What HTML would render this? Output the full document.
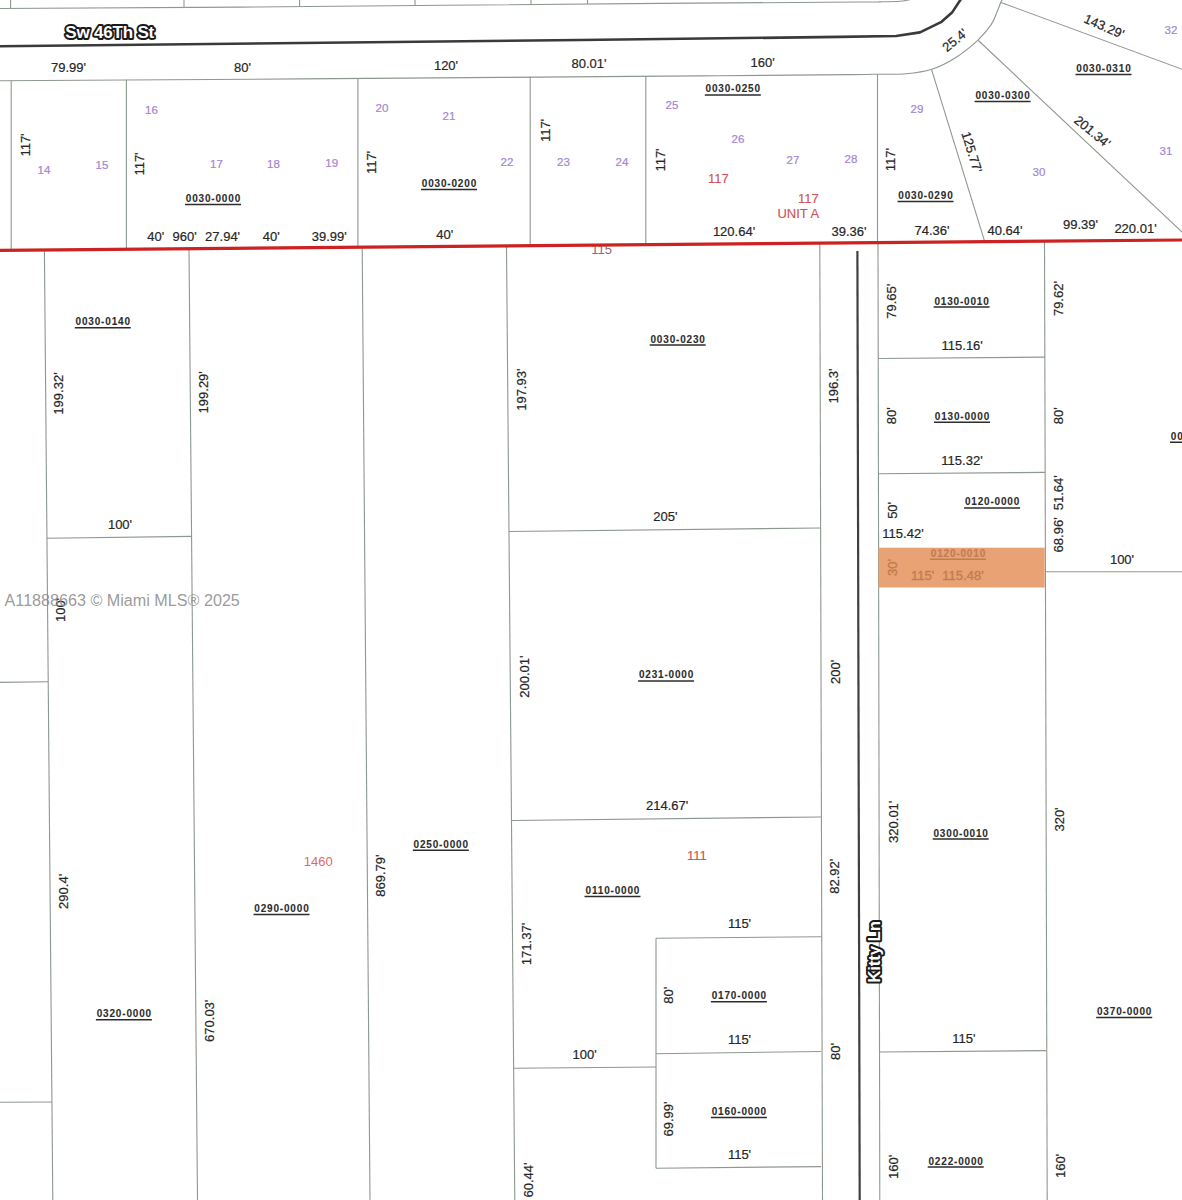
<!DOCTYPE html>
<html><head><meta charset="utf-8"><title>plat map</title>
<style>
html,body{margin:0;padding:0;background:#fff;}
body{width:1182px;height:1200px;overflow:hidden;}
svg{display:block;}
text{font-family:"Liberation Sans",sans-serif;text-anchor:middle;}
text.d{stroke:#262626;stroke-width:0.2px;}
text.p{stroke:#a385d2;stroke-width:0.2px;}
text.r{stroke:#d05454;stroke-width:0.15px;}
text.o{stroke:#c27c50;stroke-width:0.35px;}
text.i{font-weight:bold;stroke:currentColor;stroke-width:0.1px;}
text.h{font-weight:bold;fill:#fff;stroke:#1a1a1a;stroke-width:4px;paint-order:stroke;stroke-linejoin:round;letter-spacing:-0.2px;}
text.w{text-anchor:start;fill:#8e8e8e;fill-opacity:0.9;}
</style></head>
<body>
<svg width="1182" height="1200" viewBox="0 0 1182 1200">
<rect width="1182" height="1200" fill="#fff"/>
<path d="M0.00,8.50 C40.00,8.27 130.00,7.95 240.00,7.10 C350.00,6.25 556.67,4.25 660.00,3.40 C763.33,2.55 823.33,2.27 860.00,2.00 C896.67,1.73 873.33,1.92 880.00,1.80 C886.67,1.68 894.50,1.77 900.00,1.30 C905.50,0.83 910.83,-0.62 913.00,-1.00" fill="none" stroke="#8e988e" stroke-width="1.1" stroke-linejoin="round"/>
<line x1="10.6" y1="-1" x2="10.6" y2="8.4205" stroke="#8e988e" stroke-width="1.1"/>
<line x1="184" y1="-1" x2="184" y2="7.12" stroke="#8e988e" stroke-width="1.1"/>
<line x1="299.6" y1="-1" x2="299.6" y2="6.253" stroke="#8e988e" stroke-width="1.1"/>
<line x1="415" y1="-1" x2="415" y2="5.3875" stroke="#8e988e" stroke-width="1.1"/>
<line x1="531" y1="-1" x2="531" y2="4.5175" stroke="#8e988e" stroke-width="1.1"/>
<line x1="587.5" y1="-1" x2="587.5" y2="4.09375" stroke="#8e988e" stroke-width="1.1"/>
<polyline points="0,46.3 300,43 580,40 840,36.9 896,36.0 920,32.4 941,22.2 952,12.6 961,-1" fill="none" stroke="#3a3a3a" stroke-width="2.6" stroke-linejoin="round"/>
<path d="M0.00,80.80 C50.00,80.48 216.67,79.47 300.00,78.90 C383.33,78.33 433.33,77.90 500.00,77.40 C566.67,76.90 641.67,76.37 700.00,75.90 C758.33,75.43 820.33,74.88 850.00,74.60 C879.67,74.32 868.67,74.33 878.00,74.20 C887.33,74.07 897.05,74.62 906.00,73.80 C914.95,72.98 923.58,71.90 931.70,69.30 C939.82,66.70 947.03,63.03 954.70,58.20 C962.37,53.37 971.60,45.93 977.70,40.30 C983.80,34.67 988.08,29.12 991.30,24.40 C994.52,19.68 995.38,15.73 997.00,12.00 C998.62,8.27 1000.00,4.17 1001.00,2.00 C1002.00,-0.17 1002.67,-0.50 1003.00,-1.00" fill="none" stroke="#8e988e" stroke-width="1.1" stroke-linejoin="round"/>
<line x1="11.2" y1="80.716" x2="11.2" y2="250.2024027072758" stroke="#8e988e" stroke-width="1.1"/>
<line x1="126.4" y1="79.852" x2="126.4" y2="249.1985448392555" stroke="#8e988e" stroke-width="1.1"/>
<line x1="357.9" y1="78.11574999999999" x2="357.9" y2="247.18124365482234" stroke="#8e988e" stroke-width="1.1"/>
<line x1="530.2" y1="76.8235" x2="530.2" y2="245.6798138747885" stroke="#8e988e" stroke-width="1.1"/>
<line x1="645.8" y1="75.95649999999999" x2="645.8" y2="244.6724703891709" stroke="#8e988e" stroke-width="1.1"/>
<line x1="877.5" y1="74.21875" x2="877.5" y2="242.6534263959391" stroke="#8e988e" stroke-width="1.1"/>
<line x1="931.5" y1="69.3" x2="984.8" y2="241.8" stroke="#8e988e" stroke-width="1.1"/>
<line x1="978.4" y1="40.5" x2="1184" y2="234" stroke="#8e988e" stroke-width="1.1"/>
<line x1="1001" y1="2.5" x2="1184" y2="70" stroke="#8e988e" stroke-width="1.1"/>
<line x1="44.4" y1="250" x2="52.8" y2="1201" stroke="#8e988e" stroke-width="1.1"/>
<line x1="189" y1="249" x2="197.5" y2="1201" stroke="#8e988e" stroke-width="1.1"/>
<line x1="47" y1="538.2" x2="191.6" y2="536.4" stroke="#8e988e" stroke-width="1.1"/>
<line x1="-1" y1="682.4" x2="48" y2="681.7" stroke="#8e988e" stroke-width="1.1"/>
<line x1="-1" y1="1102.3" x2="52" y2="1102" stroke="#8e988e" stroke-width="1.1"/>
<line x1="362.2" y1="248" x2="370" y2="1201" stroke="#8e988e" stroke-width="1.1"/>
<line x1="506.5" y1="247" x2="514.8" y2="1201" stroke="#8e988e" stroke-width="1.1"/>
<line x1="509" y1="531.5" x2="821" y2="528" stroke="#8e988e" stroke-width="1.1"/>
<line x1="512" y1="820.5" x2="821" y2="817" stroke="#8e988e" stroke-width="1.1"/>
<line x1="514" y1="1068.2" x2="656" y2="1067" stroke="#8e988e" stroke-width="1.1"/>
<line x1="819.8" y1="244" x2="822.5" y2="1201" stroke="#8e988e" stroke-width="1.1"/>
<line x1="878" y1="242" x2="879.8" y2="1201" stroke="#8e988e" stroke-width="1.1"/>
<line x1="1044.5" y1="240" x2="1047.2" y2="1201" stroke="#8e988e" stroke-width="1.1"/>
<line x1="878" y1="358.5" x2="1045" y2="357.1" stroke="#8e988e" stroke-width="1.1"/>
<line x1="878" y1="473.7" x2="1045" y2="472.4" stroke="#8e988e" stroke-width="1.1"/>
<line x1="1045" y1="571.7" x2="1184" y2="571.7" stroke="#8e988e" stroke-width="1.1"/>
<line x1="656" y1="938.3" x2="656" y2="1168.2" stroke="#8e988e" stroke-width="1.1"/>
<line x1="656" y1="938.3" x2="821" y2="936.7" stroke="#8e988e" stroke-width="1.1"/>
<line x1="656" y1="1053.7" x2="821" y2="1051.5" stroke="#8e988e" stroke-width="1.1"/>
<line x1="656" y1="1168.2" x2="821" y2="1166.6" stroke="#8e988e" stroke-width="1.1"/>
<line x1="879" y1="1052" x2="1046" y2="1050.6" stroke="#8e988e" stroke-width="1.1"/>
<line x1="857.4" y1="251" x2="859.7" y2="1201" stroke="#404040" stroke-width="2.2"/>
<text class="d" x="68.5" y="71.95" fill="#262626" font-size="13">79.99'</text>
<text class="d" x="242.4" y="71.65" fill="#262626" font-size="13">80'</text>
<text class="d" x="446" y="69.65" fill="#262626" font-size="13">120'</text>
<text class="d" x="589" y="68.15" fill="#262626" font-size="13">80.01'</text>
<text class="d" x="762.7" y="66.85" fill="#262626" font-size="13">160'</text>
<text class="d" transform="translate(954.7,40) rotate(-40)" x="0" y="4.65" fill="#262626" font-size="13">25.4'</text>
<text class="d" transform="translate(1104.2,26.2) rotate(23.5)" x="0" y="4.65" fill="#262626" font-size="13">143.29'</text>
<text class="p" x="1171" y="34.12" fill="#a385d2" font-size="11.5">32</text>
<text class="i" transform="translate(1103.90,72.00) scale(0.87,1)" x="0" y="0" fill="#2c2c2c" color="#2c2c2c" font-size="11.5" letter-spacing="0.95">0030-0310</text>
<line x1="1075.5" y1="74.60" x2="1131.5" y2="74.60" stroke="#2c2c2c" stroke-width="1.5"/>
<text class="i" transform="translate(1003.00,99.00) scale(0.87,1)" x="0" y="0" fill="#2c2c2c" color="#2c2c2c" font-size="11.5" letter-spacing="0.95">0030-0300</text>
<line x1="974.6" y1="101.60" x2="1030.6" y2="101.60" stroke="#2c2c2c" stroke-width="1.5"/>
<text class="d" transform="translate(1092.5,131.5) rotate(39.5)" x="0" y="4.65" fill="#262626" font-size="13">201.34'</text>
<text class="d" transform="translate(972,152) rotate(73)" x="0" y="4.65" fill="#262626" font-size="13">125.77'</text>
<text class="d" transform="translate(890,159.6) rotate(-90)" x="0" y="4.65" fill="#262626" font-size="13">117'</text>
<text class="p" x="917" y="113.12" fill="#a385d2" font-size="11.5">29</text>
<text class="p" x="1039" y="176.12" fill="#a385d2" font-size="11.5">30</text>
<text class="p" x="1166" y="155.12" fill="#a385d2" font-size="11.5">31</text>
<text class="i" transform="translate(925.90,199.00) scale(0.87,1)" x="0" y="0" fill="#2c2c2c" color="#2c2c2c" font-size="11.5" letter-spacing="0.95">0030-0290</text>
<line x1="897.5" y1="201.60" x2="953.5" y2="201.60" stroke="#2c2c2c" stroke-width="1.5"/>
<text class="d" x="932" y="234.65" fill="#262626" font-size="13">74.36'</text>
<text class="d" x="1005" y="234.65" fill="#262626" font-size="13">40.64'</text>
<text class="d" x="1080.5" y="228.65" fill="#262626" font-size="13">99.39'</text>
<text class="d" x="1135.5" y="233.25" fill="#262626" font-size="13">220.01'</text>
<text class="d" transform="translate(25.4,145) rotate(-90)" x="0" y="4.65" fill="#262626" font-size="13">117'</text>
<text class="p" x="44" y="174.12" fill="#a385d2" font-size="11.5">14</text>
<text class="p" x="102" y="168.72" fill="#a385d2" font-size="11.5">15</text>
<text class="p" x="151.5" y="114.12" fill="#a385d2" font-size="11.5">16</text>
<text class="d" transform="translate(139.6,164) rotate(-90)" x="0" y="4.65" fill="#262626" font-size="13">117'</text>
<text class="p" x="216.5" y="167.62" fill="#a385d2" font-size="11.5">17</text>
<text class="p" x="273.4" y="167.62" fill="#a385d2" font-size="11.5">18</text>
<text class="p" x="331.7" y="166.92" fill="#a385d2" font-size="11.5">19</text>
<text class="i" transform="translate(213.40,202.00) scale(0.87,1)" x="0" y="0" fill="#2c2c2c" color="#2c2c2c" font-size="11.5" letter-spacing="0.95">0030-0000</text>
<line x1="185.0" y1="204.60" x2="241.0" y2="204.60" stroke="#2c2c2c" stroke-width="1.5"/>
<text class="d" x="155.8" y="240.85" fill="#262626" font-size="13">40'</text>
<text class="d" x="184.7" y="240.85" fill="#262626" font-size="13">960'</text>
<text class="d" x="222.6" y="240.85" fill="#262626" font-size="13">27.94'</text>
<text class="d" x="271.2" y="240.85" fill="#262626" font-size="13">40'</text>
<text class="d" x="329.2" y="240.85" fill="#262626" font-size="13">39.99'</text>
<text class="p" x="382" y="111.82" fill="#a385d2" font-size="11.5">20</text>
<text class="p" x="449" y="120.42" fill="#a385d2" font-size="11.5">21</text>
<text class="d" transform="translate(371,162.5) rotate(-90)" x="0" y="4.65" fill="#262626" font-size="13">117'</text>
<text class="p" x="506.9" y="165.62" fill="#a385d2" font-size="11.5">22</text>
<text class="p" x="563.5" y="165.62" fill="#a385d2" font-size="11.5">23</text>
<text class="d" transform="translate(545,130.5) rotate(-90)" x="0" y="4.65" fill="#262626" font-size="13">117'</text>
<text class="i" transform="translate(449.40,187.00) scale(0.87,1)" x="0" y="0" fill="#2c2c2c" color="#2c2c2c" font-size="11.5" letter-spacing="0.95">0030-0200</text>
<line x1="421.0" y1="189.60" x2="477.0" y2="189.60" stroke="#2c2c2c" stroke-width="1.5"/>
<text class="d" x="444.7" y="239.15" fill="#262626" font-size="13">40'</text>
<text class="i" transform="translate(733.20,92.40) scale(0.87,1)" x="0" y="0" fill="#2c2c2c" color="#2c2c2c" font-size="11.5" letter-spacing="0.95">0030-0250</text>
<line x1="704.8" y1="95.00" x2="760.8" y2="95.00" stroke="#2c2c2c" stroke-width="1.5"/>
<text class="p" x="671.9" y="109.12" fill="#a385d2" font-size="11.5">25</text>
<text class="p" x="738" y="143.12" fill="#a385d2" font-size="11.5">26</text>
<text class="p" x="621.9" y="165.62" fill="#a385d2" font-size="11.5">24</text>
<text class="d" transform="translate(660,160) rotate(-90)" x="0" y="4.65" fill="#262626" font-size="13">117'</text>
<text class="p" x="793" y="164.12" fill="#a385d2" font-size="11.5">27</text>
<text class="p" x="851" y="163.12" fill="#a385d2" font-size="11.5">28</text>
<text class="r" x="718.3" y="182.65" fill="#d05454" font-size="13">117</text>
<text class="r" x="808.4" y="202.95" fill="#d05454" font-size="13">117</text>
<text class="r" x="798.3" y="218.15" fill="#d05454" font-size="13">UNIT A</text>
<text class="d" x="734" y="235.95" fill="#262626" font-size="13">120.64'</text>
<text class="d" x="849" y="235.65" fill="#262626" font-size="13">39.36'</text>
<text class="x" x="601.6" y="254.45" fill="#8c6a78" font-size="13">115</text>
<text class="i" transform="translate(103.20,325.20) scale(0.87,1)" x="0" y="0" fill="#2c2c2c" color="#2c2c2c" font-size="11.5" letter-spacing="0.95">0030-0140</text>
<line x1="74.8" y1="327.80" x2="130.8" y2="327.80" stroke="#2c2c2c" stroke-width="1.5"/>
<text class="d" transform="translate(58.8,393.5) rotate(-90)" x="0" y="4.65" fill="#262626" font-size="13">199.32'</text>
<text class="d" transform="translate(203.8,392.3) rotate(-90)" x="0" y="4.65" fill="#262626" font-size="13">199.29'</text>
<text class="d" x="120" y="528.95" fill="#262626" font-size="13">100'</text>
<text class="d" transform="translate(60,610) rotate(-90)" x="0" y="4.65" fill="#262626" font-size="13">100'</text>
<text class="d" transform="translate(63.5,891.4) rotate(-90)" x="0" y="4.65" fill="#262626" font-size="13">290.4'</text>
<text class="i" transform="translate(124.30,1017.20) scale(0.87,1)" x="0" y="0" fill="#2c2c2c" color="#2c2c2c" font-size="11.5" letter-spacing="0.95">0320-0000</text>
<line x1="95.9" y1="1019.80" x2="151.9" y2="1019.80" stroke="#2c2c2c" stroke-width="1.5"/>
<text class="d" transform="translate(209.4,1020.8) rotate(-90)" x="0" y="4.65" fill="#262626" font-size="13">670.03'</text>
<text class="i" transform="translate(281.90,911.80) scale(0.87,1)" x="0" y="0" fill="#2c2c2c" color="#2c2c2c" font-size="11.5" letter-spacing="0.95">0290-0000</text>
<line x1="253.5" y1="914.40" x2="309.5" y2="914.40" stroke="#2c2c2c" stroke-width="1.5"/>
<text class="x" x="318.3" y="866.25" fill="#dc6a6a" font-size="13">1460</text>
<text class="d" transform="translate(380.6,875.6) rotate(-90)" x="0" y="4.65" fill="#262626" font-size="13">869.79'</text>
<text class="i" transform="translate(441.20,847.70) scale(0.87,1)" x="0" y="0" fill="#2c2c2c" color="#2c2c2c" font-size="11.5" letter-spacing="0.95">0250-0000</text>
<line x1="412.8" y1="850.30" x2="468.8" y2="850.30" stroke="#2c2c2c" stroke-width="1.5"/>
<text class="d" transform="translate(521.6,389.7) rotate(-90)" x="0" y="4.65" fill="#262626" font-size="13">197.93'</text>
<text class="i" transform="translate(678.10,342.50) scale(0.87,1)" x="0" y="0" fill="#2c2c2c" color="#2c2c2c" font-size="11.5" letter-spacing="0.95">0030-0230</text>
<line x1="649.7" y1="345.10" x2="705.7" y2="345.10" stroke="#2c2c2c" stroke-width="1.5"/>
<text class="d" transform="translate(833.8,386) rotate(-90)" x="0" y="4.65" fill="#262626" font-size="13">196.3'</text>
<text class="d" x="665.4" y="521.05" fill="#262626" font-size="13">205'</text>
<text class="d" transform="translate(524,676.6) rotate(-90)" x="0" y="4.65" fill="#262626" font-size="13">200.01'</text>
<text class="i" transform="translate(666.50,678.30) scale(0.87,1)" x="0" y="0" fill="#2c2c2c" color="#2c2c2c" font-size="11.5" letter-spacing="0.95">0231-0000</text>
<line x1="638.1" y1="680.90" x2="694.1" y2="680.90" stroke="#2c2c2c" stroke-width="1.5"/>
<text class="d" transform="translate(835.3,671.9) rotate(-90)" x="0" y="4.65" fill="#262626" font-size="13">200'</text>
<text class="d" x="667.1" y="810.25" fill="#262626" font-size="13">214.67'</text>
<text class="r" x="696.8" y="860.05" fill="#d05454" font-size="13">111</text>
<text class="i" transform="translate(612.90,893.80) scale(0.87,1)" x="0" y="0" fill="#2c2c2c" color="#2c2c2c" font-size="11.5" letter-spacing="0.95">0110-0000</text>
<line x1="584.5" y1="896.40" x2="640.5" y2="896.40" stroke="#2c2c2c" stroke-width="1.5"/>
<text class="d" transform="translate(834.4,876.3) rotate(-90)" x="0" y="4.65" fill="#262626" font-size="13">82.92'</text>
<text class="d" x="739.5" y="928.15" fill="#262626" font-size="13">115'</text>
<text class="d" transform="translate(526.5,944) rotate(-90)" x="0" y="4.65" fill="#262626" font-size="13">171.37'</text>
<text class="d" transform="translate(668.8,995.2) rotate(-90)" x="0" y="4.65" fill="#262626" font-size="13">80'</text>
<text class="i" transform="translate(739.30,999.20) scale(0.87,1)" x="0" y="0" fill="#2c2c2c" color="#2c2c2c" font-size="11.5" letter-spacing="0.95">0170-0000</text>
<line x1="710.9" y1="1001.80" x2="766.9" y2="1001.80" stroke="#2c2c2c" stroke-width="1.5"/>
<text class="d" x="739.5" y="1044.25" fill="#262626" font-size="13">115'</text>
<text class="d" x="584.6" y="1059.35" fill="#262626" font-size="13">100'</text>
<text class="d" transform="translate(835,1051.5) rotate(-90)" x="0" y="4.65" fill="#262626" font-size="13">80'</text>
<text class="d" transform="translate(668.8,1119) rotate(-90)" x="0" y="4.65" fill="#262626" font-size="13">69.99'</text>
<text class="i" transform="translate(739.30,1115.00) scale(0.87,1)" x="0" y="0" fill="#2c2c2c" color="#2c2c2c" font-size="11.5" letter-spacing="0.95">0160-0000</text>
<line x1="710.9" y1="1117.60" x2="766.9" y2="1117.60" stroke="#2c2c2c" stroke-width="1.5"/>
<text class="d" x="739.5" y="1159.05" fill="#262626" font-size="13">115'</text>
<text class="d" transform="translate(528.3,1180) rotate(-90)" x="0" y="4.65" fill="#262626" font-size="13">60.44'</text>
<text class="i" transform="translate(962.00,304.50) scale(0.87,1)" x="0" y="0" fill="#2c2c2c" color="#2c2c2c" font-size="11.5" letter-spacing="0.95">0130-0010</text>
<line x1="933.6" y1="307.10" x2="989.6" y2="307.10" stroke="#2c2c2c" stroke-width="1.5"/>
<text class="d" transform="translate(891.3,301.3) rotate(-90)" x="0" y="4.65" fill="#262626" font-size="13">79.65'</text>
<text class="d" x="962.2" y="349.55" fill="#262626" font-size="13">115.16'</text>
<text class="d" transform="translate(1058.3,298.6) rotate(-90)" x="0" y="4.65" fill="#262626" font-size="13">79.62'</text>
<text class="d" transform="translate(891.3,415.7) rotate(-90)" x="0" y="4.65" fill="#262626" font-size="13">80'</text>
<text class="i" transform="translate(962.40,419.70) scale(0.87,1)" x="0" y="0" fill="#2c2c2c" color="#2c2c2c" font-size="11.5" letter-spacing="0.95">0130-0000</text>
<line x1="934.0" y1="422.30" x2="990.0" y2="422.30" stroke="#2c2c2c" stroke-width="1.5"/>
<text class="d" transform="translate(1058.3,415.7) rotate(-90)" x="0" y="4.65" fill="#262626" font-size="13">80'</text>
<text class="d" x="962" y="465.25" fill="#262626" font-size="13">115.32'</text>
<text class="i" transform="translate(1198.40,439.60) scale(0.87,1)" x="0" y="0" fill="#2c2c2c" color="#2c2c2c" font-size="11.5" letter-spacing="0.95">0030-0370</text>
<line x1="1170.0" y1="442.20" x2="1226.0" y2="442.20" stroke="#2c2c2c" stroke-width="1.5"/>
<text class="d" transform="translate(892.1,510.4) rotate(-90)" x="0" y="4.65" fill="#262626" font-size="13">50'</text>
<text class="i" transform="translate(992.50,505.40) scale(0.87,1)" x="0" y="0" fill="#2c2c2c" color="#2c2c2c" font-size="11.5" letter-spacing="0.95">0120-0000</text>
<line x1="964.1" y1="508.00" x2="1020.1" y2="508.00" stroke="#2c2c2c" stroke-width="1.5"/>
<text class="d" x="903" y="538.15" fill="#262626" font-size="13">115.42'</text>
<text class="d" transform="translate(1058.3,534.9) rotate(-90)" x="0" y="4.65" fill="#262626" font-size="13">68.96'</text>
<text class="d" transform="translate(1058.3,492.7) rotate(-90)" x="0" y="4.65" fill="#262626" font-size="13">51.64'</text>
<text class="d" x="1122" y="564.05" fill="#262626" font-size="13">100'</text>
<text class="d" transform="translate(893.5,821.8) rotate(-90)" x="0" y="4.65" fill="#262626" font-size="13">320.01'</text>
<text class="i" transform="translate(961.10,836.50) scale(0.87,1)" x="0" y="0" fill="#2c2c2c" color="#2c2c2c" font-size="11.5" letter-spacing="0.95">0300-0010</text>
<line x1="932.7" y1="839.10" x2="988.7" y2="839.10" stroke="#2c2c2c" stroke-width="1.5"/>
<text class="d" transform="translate(1059,819.5) rotate(-90)" x="0" y="4.65" fill="#262626" font-size="13">320'</text>
<text class="i" transform="translate(1124.60,1015.00) scale(0.87,1)" x="0" y="0" fill="#2c2c2c" color="#2c2c2c" font-size="11.5" letter-spacing="0.95">0370-0000</text>
<line x1="1096.2" y1="1017.60" x2="1152.2" y2="1017.60" stroke="#2c2c2c" stroke-width="1.5"/>
<text class="d" x="963.8" y="1042.75" fill="#262626" font-size="13">115'</text>
<text class="d" transform="translate(893.5,1166.9) rotate(-90)" x="0" y="4.65" fill="#262626" font-size="13">160'</text>
<text class="i" transform="translate(956.10,1164.50) scale(0.87,1)" x="0" y="0" fill="#2c2c2c" color="#2c2c2c" font-size="11.5" letter-spacing="0.95">0222-0000</text>
<line x1="927.7" y1="1167.10" x2="983.7" y2="1167.10" stroke="#2c2c2c" stroke-width="1.5"/>
<text class="d" transform="translate(1060.5,1166) rotate(-90)" x="0" y="4.65" fill="#262626" font-size="13">160'</text>
<rect x="878.5" y="547.7" width="166.2" height="39.8" fill="#e8a274"/>
<text class="i" transform="translate(958.40,556.60) scale(0.87,1)" x="0" y="0" fill="#c27c50" color="#c27c50" font-size="11.5" letter-spacing="0.95">0120-0010</text>
<line x1="930.0" y1="559.20" x2="986.0" y2="559.20" stroke="#c27c50" stroke-width="1.5"/>
<text class="o" transform="translate(892.1,567.6) rotate(-90)" x="0" y="4.65" fill="#c27c50" font-size="13">30'</text>
<text class="o" x="922.7" y="580.45" fill="#c27c50" font-size="13">115'</text>
<text class="o" x="963" y="580.45" fill="#c27c50" font-size="13">115.48'</text>
<line x1="-1" y1="250.3" x2="1184" y2="240" stroke="#cc2222" stroke-width="3.2"/>
<text class="h" x="109.7" y="37.6" font-size="17">Sw 46Th St</text>
<text class="h" transform="translate(874.2,952) rotate(-90)" x="0" y="6" font-size="17">Kitty Ln</text>
<text class="w" x="4.6" y="605.8" font-size="16.15">A11888663 © Miami MLS® 2025</text>
</svg>
</body></html>
